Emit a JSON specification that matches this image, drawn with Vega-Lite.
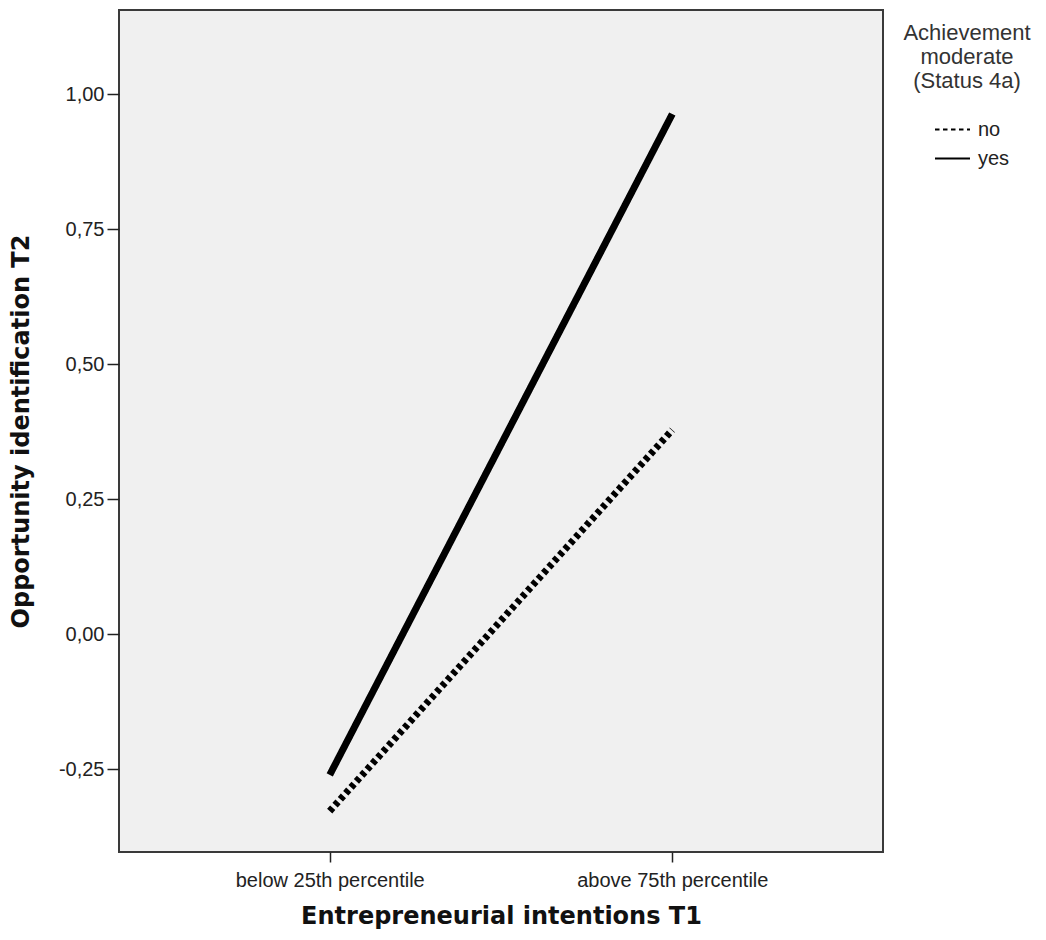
{
  "$schema": "https://vega.github.io/schema/vega-lite/v6.json",
  "autosize": "none",
  "width": 764,
  "height": 842,
  "padding": {"left": 119, "top": 10, "right": 163, "bottom": 88},
  "background": "white",
  "data": {
    "values": [
      {"ei": "below 25th percentile", "group": "no", "oi": -0.328},
      {"ei": "above 75th percentile", "group": "no", "oi": 0.378},
      {"ei": "below 25th percentile", "group": "yes", "oi": -0.261},
      {"ei": "above 75th percentile", "group": "yes", "oi": 0.963}
    ]
  },
  "config": {
    "font": "Liberation Sans",
    "view": {"fill": "#f0f0f0", "stroke": "#3a3a3a", "strokeWidth": 2}
  },
  "mark": {"type": "line", "color": "black", "strokeWidth": 7, "strokeCap": "butt"},
  "encoding": {
    "x": {
      "field": "ei",
      "type": "nominal",
      "sort": ["below 25th percentile", "above 75th percentile"],
      "scale": {"type": "point", "padding": 0.615},
      "axis": {
        "title": "Entrepreneurial intentions T1",
        "titleFont": "DejaVu Sans",
        "titleFontSize": 24,
        "titleFontWeight": "bold",
        "titleColor": "#111111",
        "titlePadding": 14,
        "labelAngle": 0,
        "labelFontSize": 20,
        "labelLimit": 0,
        "labelColor": "#222222",
        "labelPadding": 8,
        "tickSize": 10,
        "tickColor": "#222222",
        "tickWidth": 1.5,
        "domain": false,
        "grid": false
      }
    },
    "y": {
      "field": "oi",
      "type": "quantitative",
      "scale": {"domain": [-0.4037, 1.1556], "nice": false, "zero": false},
      "axis": {
        "title": "Opportunity identification T2",
        "titleFont": "DejaVu Sans",
        "titleFontSize": 24,
        "titleFontWeight": "bold",
        "titleColor": "#111111",
        "titlePadding": 25,
        "values": [-0.25, 0, 0.25, 0.5, 0.75, 1.0],
        "labelExpr": "replace(replace(format(datum.value, '.2f'), '.', ','), '\u2212', '-')",
        "labelFontSize": 20,
        "labelColor": "#222222",
        "labelPadding": 3,
        "tickSize": 12,
        "tickColor": "#222222",
        "tickWidth": 1.5,
        "domain": false,
        "grid": false
      }
    },
    "strokeDash": {
      "field": "group",
      "type": "nominal",
      "scale": {"domain": ["no", "yes"], "range": [[4.5, 3.5], [1, 0]]},
      "legend": {
        "title": ["Achievement", "moderate", "(Status 4a)"],
        "titleFontSize": 22,
        "titleFontWeight": "normal",
        "titleColor": "#333333",
        "titleLineHeight": 24,
        "titleAnchor": "middle",
        "titleAlign": "center",
        "titlePadding": 18,
        "orient": "right",
        "offset": 7,
        "padding": 13,
        "symbolType": "stroke",
        "symbolSize": 1225,
        "symbolStrokeWidth": 2,
        "symbolStrokeColor": "black",
        "symbolOffset": 9,
        "labelFontSize": 20,
        "labelColor": "#222222",
        "labelOffset": 7,
        "rowPadding": -9
      }
    }
  }
}
